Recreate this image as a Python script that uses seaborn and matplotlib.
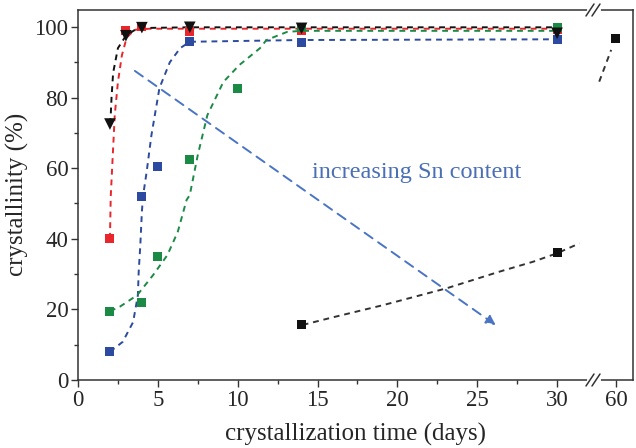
import numpy as np
import pandas as pd
import seaborn as sns
import matplotlib.pyplot as plt
from matplotlib.lines import Line2D

# measured points
days_red = [2, 3, 4, 7, 14, 30]
cryst_red = [40, 99, 100, 98.6, 99.1, 99.4]
days_tri = [2, 3, 4, 7, 14, 30]
cryst_tri = [72.5, 97.5, 99.8, 99.9, 99.6, 98.2]
days_blue = [2, 4, 5, 7, 14, 30]
cryst_blue = [8, 52, 60.5, 96, 95.5, 96.5]
days_green = [2, 4, 5, 7, 10, 14, 30]
cryst_green = [19.5, 22, 35, 62.5, 82.5, 99.8, 99.8]
days_blk = [14, 30, 60]
cryst_blk = [15.8, 36, 96.6]

# dashed guide curves
red_cx = [2.0, 2.05, 2.2, 2.3, 2.5, 2.75, 3.05, 3.55, 4.5, 7, 14, 30]
red_cy = [40, 52, 65.7, 75, 84.4, 92, 97, 99.2, 99.5, 99.5, 99.5, 99.5]
tri_cx = [2.0, 2.05, 2.1, 2.2, 2.5, 3.0, 3.5, 4, 7, 14, 30]
tri_cy = [72.5, 75, 80, 87, 94, 97.5, 99, 99.7, 99.9, 99.9, 99.9]
blue_cx = [2.0, 2.8, 3.45, 3.75, 3.8, 3.9, 4.0, 4.07, 4.3, 4.6, 5.1, 5.75, 6.4, 7.0, 14, 30]
blue_cy = [8, 10.8, 16.4, 24, 30.6, 38, 47.6, 52, 59, 69.4, 82.7, 90, 94, 95.8, 96.3, 96.5]
green_cx = [2.0, 2.6, 3.7, 4.7, 5.6, 6.25, 6.8, 7.0, 7.5, 8.1, 9.1, 10.1, 11.4, 11.8, 13.1, 14, 30]
green_cy = [19.5, 20.7, 24, 29.7, 35.4, 42, 51, 52.4, 63.7, 75, 84.4, 89.2, 94, 96.3, 98.6, 98.9, 98.9]
blk_cx = [14.07, 16.0, 19.1, 23.1, 26.4, 28.5, 30, 31.4]
blk_cy = [15.6, 17.8, 21.2, 26, 30.7, 33.5, 35.9, 38.7]
blk2_cx = [58.95, 59.7]
blk2_cy = [84.5, 93.5]

RED, BLUE, GREEN, BLACK = "#e8262b", "#2b4aa0", "#1b8a45", "#111111"
ARROW = "#4a74c4"

sns.set_style("ticks")
plt.rcParams['font.family'] = ['Liberation Serif', 'DejaVu Serif']
plt.rcParams['xtick.direction'] = 'out'
plt.rcParams['ytick.direction'] = 'out'

fig = plt.figure(figsize=(6.36, 4.48), dpi=100)
L, B, T = 78 / 636, 1 - 380 / 448, 1 - 10 / 448
BRK, R = 593 / 636, 633 / 636
ax = fig.add_axes([L, B, BRK - L, T - B])
ax2 = fig.add_axes([BRK, B, R - BRK, T - B])

curves = [(red_cx, red_cy, RED), (tri_cx, tri_cy, BLACK), (blue_cx, blue_cy, BLUE),
          (green_cx, green_cy, GREEN), (blk_cx, blk_cy, "#333333")]
for cx, cy, c in curves:
    sns.lineplot(x=cx, y=cy, ax=ax, color=c, lw=1.4, sort=False,
                 linestyle=(0, (3, 2.5)), estimator=None)
sns.lineplot(x=blk2_cx, y=blk2_cy, ax=ax2, color="#333333", lw=1.4, sort=False,
             linestyle=(0, (3, 2.5)), estimator=None)

sq = dict(marker="s", s=42, edgecolor="none", zorder=5)
sns.scatterplot(x=days_red, y=cryst_red, ax=ax, color=RED, **sq)
sns.scatterplot(x=days_blue, y=cryst_blue, ax=ax, color=BLUE, **sq)
sns.scatterplot(x=days_green, y=cryst_green, ax=ax, color=GREEN, **sq)
sns.scatterplot(x=days_tri, y=cryst_tri, ax=ax, color=BLACK, marker="v", s=70,
                edgecolor="none", zorder=6)
sns.scatterplot(x=days_blk, y=cryst_blk, ax=ax, color=BLACK, **sq)
sns.scatterplot(x=days_blk, y=cryst_blk, ax=ax2, color=BLACK, **sq)

ax.annotate("", xy=(26.3, 15.1), xytext=(3.42, 88),
            arrowprops=dict(arrowstyle="-|>", color=ARROW, lw=1.4,
                            linestyle=(0, (5, 3.5)), mutation_scale=14))
ax.text(21.2, 58.9, "increasing Sn content", color="#4a6fb5", fontsize=17.5,
        ha="center", va="center")

ax.set_xlim(0, 32.25)
ax.set_ylim(0, 104.8)
ax2.set_xlim(58.56, 61.07)
ax2.set_ylim(0, 104.8)
ax.set_xticks(np.arange(0, 31, 5))
ax.set_xticks(np.arange(2.5, 31, 5), minor=True)
ax.set_yticks(np.arange(0, 101, 20))
ax.set_yticks(np.arange(10, 101, 20), minor=True)
ax2.set_xticks([60])
ax2.set_yticks([])
ax.tick_params(which="major", length=5, width=1, labelsize=16.5, color="#333333", pad=2)
ax.tick_params(which="minor", length=3, width=1, color="#333333")
ax2.tick_params(axis="x", length=5, width=1, labelsize=16.5, color="#333333", pad=2)
ax.spines["right"].set_visible(False)
ax2.spines["left"].set_visible(False)
for a in (ax, ax2):
    for s in a.spines.values():
        s.set_color("#333333")
        s.set_linewidth(1.1)
    a.set_xlabel("")
    a.set_ylabel("")

fig.text(17 / 636, 1 - 194 / 448, "crystallinity (%)", fontsize=18, rotation=90,
         ha="center", va="center")
fig.text((78 + 633) / 2 / 636, 1 - 434 / 448, "crystallization time (days)",
         fontsize=18, ha="center", va="center")

# axis break marks
for yp in (380, 10):
    fig.add_artist(Line2D([589 / 636, 599 / 636], [1 - yp / 448] * 2,
                          color="white", lw=3, transform=fig.transFigure))
    for dx in (-3, 3):
        xc = 593 + dx
        fig.add_artist(Line2D([(xc - 4) / 636, (xc + 4) / 636],
                              [1 - (yp + 6) / 448, 1 - (yp - 6) / 448],
                              color="#333333", lw=1.1, transform=fig.transFigure))

plt.savefig("out.png", dpi=100)
